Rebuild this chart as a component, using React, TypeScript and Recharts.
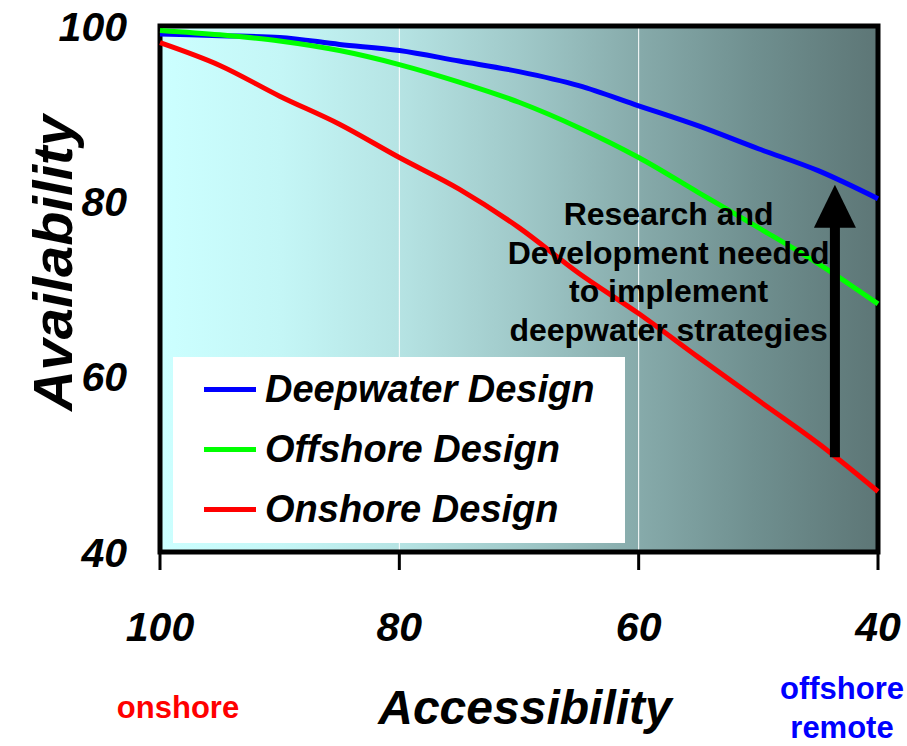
import { LineChart, Line, XAxis, YAxis, CartesianGrid, ReferenceArea, ReferenceLine, ReferenceDot, Legend, Label } from "recharts";

const FONT = "'Liberation Sans', Arial, sans-serif";

// Accessibility (x, reversed) and availability per design
const accessibility = [100, 95, 90, 85, 80, 75, 70, 65, 60, 55, 50, 45, 40];
const deepwater = [99.1, 98.9, 98.7, 97.9, 97.2, 96.0, 94.8, 93.2, 90.9, 88.6, 86.0, 83.5, 80.3];
const offshore = [99.5, 99.0, 98.3, 97.2, 95.6, 93.6, 91.3, 88.4, 85.0, 81.0, 77.0, 72.9, 68.3];
const onshore = [98.1, 95.5, 92.0, 88.8, 85.0, 81.4, 77.0, 71.8, 67.2, 62.2, 57.3, 52.4, 46.9];

const xTicks = [100, 80, 60, 40];
const yTicks = [40, 60, 80, 100];
const noteLines = ["Research and", "Development needed", "to implement", "deepwater strategies"];

const data = accessibility.map((a, i) => ({
  acc: a,
  deep: deepwater[i],
  off: offshore[i],
  on: onshore[i],
}));

const tickStyle = { fontSize: 41, fontWeight: "bold", fontStyle: "italic", fill: "#000", fontFamily: FONT };

const renderLegend = (props: any) => (
  <div style={{ width: 452, height: 186, background: "#fff", paddingTop: 2, boxSizing: "border-box" }}>
    {props.payload.map((e: any) => (
      <div key={e.value} style={{ display: "flex", alignItems: "center", height: 60 }}>
        <span style={{ display: "inline-block", width: 52, height: 5, background: e.color, marginLeft: 31, marginRight: 9 }} />
        <span style={{ fontFamily: FONT, fontSize: 38, fontWeight: "bold", fontStyle: "italic", color: "#000" }}>{e.value}</span>
      </div>
    ))}
  </div>
);

const XTitle = () => (
  <g fontFamily={FONT} fontWeight="bold">
    <text x={525} y={724} textAnchor="middle" fontSize={48} fontStyle="italic" fill="#000">Accessibility</text>
    <text x={178} y={718} textAnchor="middle" fontSize={31} fill="#ff0000">onshore</text>
    <text x={842} y={699} textAnchor="middle" fontSize={31} fill="#0000ff">offshore</text>
    <text x={842} y={738} textAnchor="middle" fontSize={31} fill="#0000ff">remote</text>
  </g>
);

const YTitle = () => (
  <text x={72} y={263} transform="rotate(-90, 72, 263)" textAnchor="middle" fontFamily={FONT} fontWeight="bold" fontStyle="italic" fontSize={56} fill="#000">
    Availability
  </text>
);

const NoteText = (props: any) => {
  const vb = props.viewBox || {};
  const cx = vb.x + (vb.width || 0) / 2;
  const cy = vb.y + (vb.height || 0) / 2;
  return (
    <text textAnchor="middle" fontFamily={FONT} fontWeight="bold" fontSize={32} fill="#000">
      {noteLines.map((t, i) => (
        <tspan key={t} x={cx} y={cy + i * 38.5}>{t}</tspan>
      ))}
    </text>
  );
};

const ArrowHead = (props: any) => {
  const { cx, cy } = props;
  return <polygon points={`${cx - 21},${cy} ${cx + 21},${cy} ${cx},${cy - 43}`} fill="#000" />;
};

export default function App() {
  return (
    <div style={{ position: "absolute", left: 0, top: 0, background: "#fff" }}>
      <LineChart width={907} height={746} data={data} margin={{ top: 26, right: 29, bottom: 134, left: 100 }}>
        <defs>
          <linearGradient id="bg" x1="0" y1="0" x2="1" y2="0">
            <stop offset="0" stopColor="#ccffff" />
            <stop offset="0.17" stopColor="#c4f6f6" />
            <stop offset="0.33" stopColor="#b6e4e4" />
            <stop offset="0.5" stopColor="#a0c9c9" />
            <stop offset="0.67" stopColor="#86aaaa" />
            <stop offset="0.83" stopColor="#6f8f8f" />
            <stop offset="1" stopColor="#5d7676" />
          </linearGradient>
        </defs>
        <CartesianGrid horizontal={false} stroke="#ffffff" strokeWidth={1} fill="url(#bg)" fillOpacity={1} />
        <XAxis
          dataKey="acc"
          type="number"
          domain={[40, 100]}
          reversed
          ticks={xTicks}
          axisLine={false}
          tickLine={{ stroke: "#000", strokeWidth: 3 }}
          tickSize={18}
          tickMargin={42}
          height={60}
          tick={tickStyle}
        >
          <Label content={<XTitle />} />
        </XAxis>
        <YAxis
          type="number"
          domain={[40, 100]}
          ticks={yTicks}
          axisLine={false}
          tickLine={false}
          tickSize={0}
          tickMargin={33}
          width={60}
          tick={tickStyle}
        >
          <Label content={<YTitle />} />
        </YAxis>
        <Line type="monotone" dataKey="deep" name="Deepwater Design" stroke="#0000ff" strokeWidth={5} dot={false} isAnimationActive={false} />
        <Line type="monotone" dataKey="off" name="Offshore Design" stroke="#00ff00" strokeWidth={5} dot={false} isAnimationActive={false} />
        <Line type="monotone" dataKey="on" name="Onshore Design" stroke="#ff0000" strokeWidth={5} dot={false} isAnimationActive={false} />
        <ReferenceLine segment={[{ x: 43.6, y: 50.8 }, { x: 43.6, y: 77.2 }]} stroke="#000" strokeWidth={10} />
        <ReferenceDot x={43.6} y={77.0} r={0} shape={<ArrowHead />} />
        <ReferenceDot x={57.5} y={77.3} r={0} fill="none" stroke="none">
          <Label content={<NoteText />} />
        </ReferenceDot>
        <ReferenceArea x1={100} x2={40} y1={40} y2={100} fill="none" stroke="#000" strokeWidth={5} ifOverflow="visible" />
        <Legend
          layout="horizontal"
          verticalAlign="middle"
          align="center"
          content={renderLegend}
          wrapperStyle={{ left: 173, top: 357, width: 452, height: 186 }}
        />
      </LineChart>
    </div>
  );
}
